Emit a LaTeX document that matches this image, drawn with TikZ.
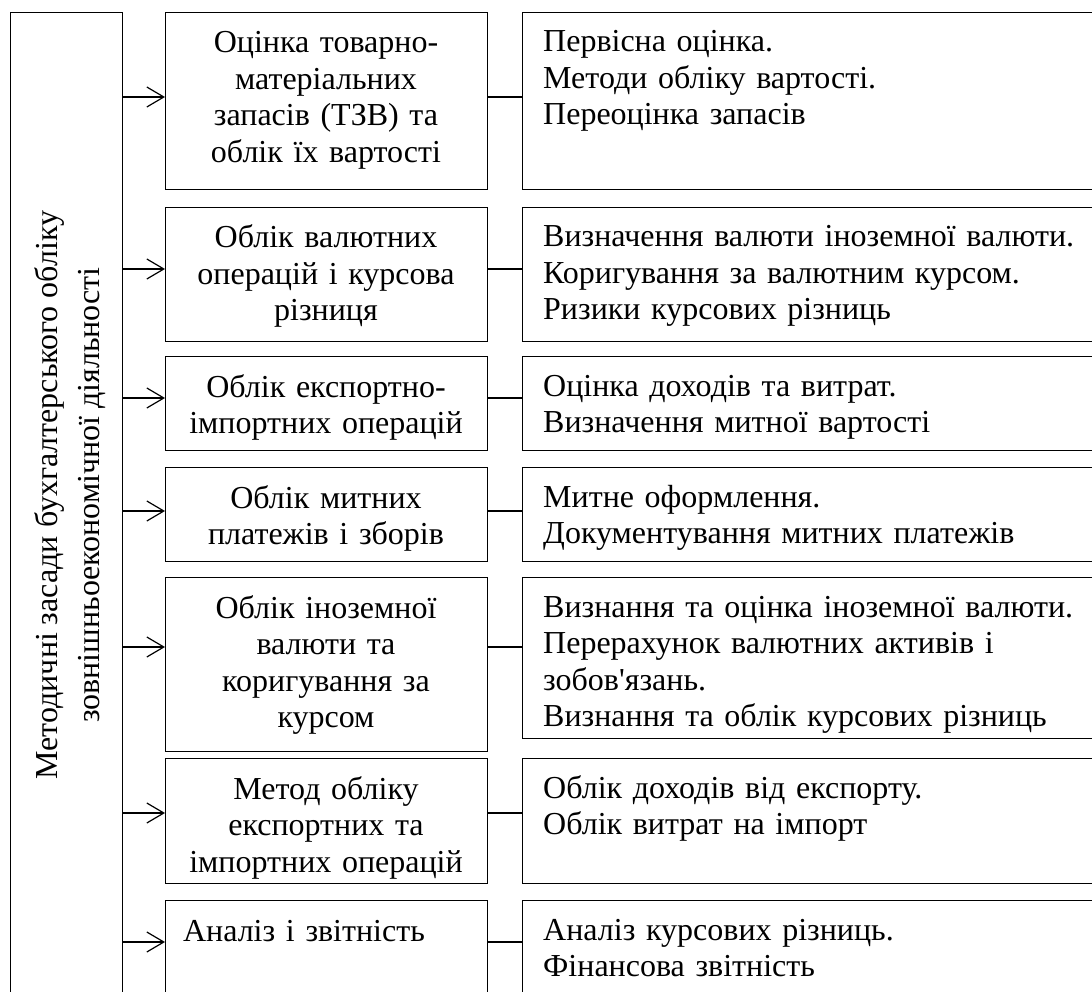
\documentclass[tikz,border=0pt]{standalone}
\usepackage{fontspec}
\setmainfont{Liberation Serif}
\usepackage{tikz}
\usetikzlibrary{arrows.meta,positioning}
\newcommand{\apos}{\XeTeXglyph\XeTeXcharglyph"27\relax}
\tikzstyle{box} = [draw, line width=1.2pt, inner sep=0pt, anchor=north west]
\tikzstyle{midtxt} = [inner sep=0pt, anchor=base, text width=310pt, align=center]
\tikzstyle{righttxt} = [inner sep=0pt, anchor=base west, text width=560pt, align=left]
\tikzstyle{roottxt} = [inner sep=0pt, rotate=90, align=center, font=\fontsize{32}{42}\selectfont]
\tikzstyle{arrow} = [line width=1.2pt, -{Straight Barb[length=17pt,width=20pt,line width=1.2pt]}]
\tikzstyle{link} = [line width=1.2pt]

\begin{document}
\begin{tikzpicture}[x=1pt, y=-1pt, every node/.style={font=\fontsize{32}{36.5}\selectfont}]
\useasboundingbox (0,0) rectangle (1092,992);
\clip (0,0) rectangle (1092,992);

% Main block
\node[box, minimum width=112pt, minimum height=1000pt] (root) at (10,12) {};
\node[roottxt] (roottext) at (70,495) {Методичні засади бухгалтерського обліку\\зовнішньоекономічної діяльності};

% Middle column
\node[box, minimum width=322pt, minimum height=177pt] (m1) at (165,12) {};
\node[box, minimum width=322pt, minimum height=134pt] (m2) at (165,207) {};
\node[box, minimum width=322pt, minimum height=94pt] (m3) at (165,356) {};
\node[box, minimum width=322pt, minimum height=94pt] (m4) at (165,467) {};
\node[box, minimum width=322pt, minimum height=174pt] (m5) at (165,577) {};
\node[box, minimum width=322pt, minimum height=125pt] (m6) at (165,758) {};
\node[box, minimum width=322pt, minimum height=120pt] (m7) at (165,900) {};

\node[midtxt] (mt1) at (326,53) {Оцінка товарно-\\матеріальних\\запасів (ТЗВ) та\\облік їх вартості};
\node[midtxt] (mt2) at (326,248) {Облік валютних\\операцій і курсова\\різниця};
\node[midtxt] (mt3) at (326,397) {Облік експортно-\\імпортних операцій};
\node[midtxt] (mt4) at (326,508) {Облік митних\\платежів і зборів};
\node[midtxt] (mt5) at (326,618) {Облік іноземної\\валюти та\\коригування за\\курсом};
\node[midtxt] (mt6) at (326,799) {Метод обліку\\експортних та\\імпортних операцій};
\node[midtxt] (mt7) at (304,941) {Аналіз і звітність};

% Right column
\node[box, minimum width=600pt, minimum height=177pt] (r1) at (522,12) {};
\node[box, minimum width=600pt, minimum height=134pt] (r2) at (522,207) {};
\node[box, minimum width=600pt, minimum height=94pt] (r3) at (522,356) {};
\node[box, minimum width=600pt, minimum height=94pt] (r4) at (522,467) {};
\node[box, minimum width=600pt, minimum height=161pt] (r5) at (522,577) {};
\node[box, minimum width=600pt, minimum height=125pt] (r6) at (522,758) {};
\node[box, minimum width=600pt, minimum height=120pt] (r7) at (522,900) {};

\node[righttxt] (rt1) at (543,52) {Первісна оцінка.\\Методи обліку вартості.\\Переоцінка запасів};
\node[righttxt] (rt2) at (543,247) {Визначення валюти іноземної валюти.\\Коригування за валютним курсом.\\Ризики курсових різниць};
\node[righttxt] (rt3) at (543,396) {Оцінка доходів та витрат.\\Визначення митної вартості};
\node[righttxt] (rt4) at (543,507) {Митне оформлення.\\Документування митних платежів};
\node[righttxt] (rt5) at (543,617) {Визнання та оцінка іноземної валюти.\\Перерахунок валютних активів і\\зобов\apos язань.\\Визнання та облік курсових різниць};
\node[righttxt] (rt6) at (543,798) {Облік доходів від експорту.\\Облік витрат на імпорт};
\node[righttxt] (rt7) at (543,940) {Аналіз курсових різниць.\\Фінансова звітність};

% Connectors
\coordinate (c1) at (0,97);
\coordinate (c2) at (0,269);
\coordinate (c3) at (0,398);
\coordinate (c4) at (0,511);
\coordinate (c5) at (0,647);
\coordinate (c6) at (0,813);
\coordinate (c7) at (0,942);
\draw[arrow] (root.east |- c1) -- (m1.west |- c1);
\draw[arrow] (root.east |- c2) -- (m2.west |- c2);
\draw[arrow] (root.east |- c3) -- (m3.west |- c3);
\draw[arrow] (root.east |- c4) -- (m4.west |- c4);
\draw[arrow] (root.east |- c5) -- (m5.west |- c5);
\draw[arrow] (root.east |- c6) -- (m6.west |- c6);
\draw[arrow] (root.east |- c7) -- (m7.west |- c7);
\draw[link] (m1.east |- c1) -- (r1.west |- c1);
\draw[link] (m2.east |- c2) -- (r2.west |- c2);
\draw[link] (m3.east |- c3) -- (r3.west |- c3);
\draw[link] (m4.east |- c4) -- (r4.west |- c4);
\draw[link] (m5.east |- c5) -- (r5.west |- c5);
\draw[link] (m6.east |- c6) -- (r6.west |- c6);
\draw[link] (m7.east |- c7) -- (r7.west |- c7);
\end{tikzpicture}
\end{document}
